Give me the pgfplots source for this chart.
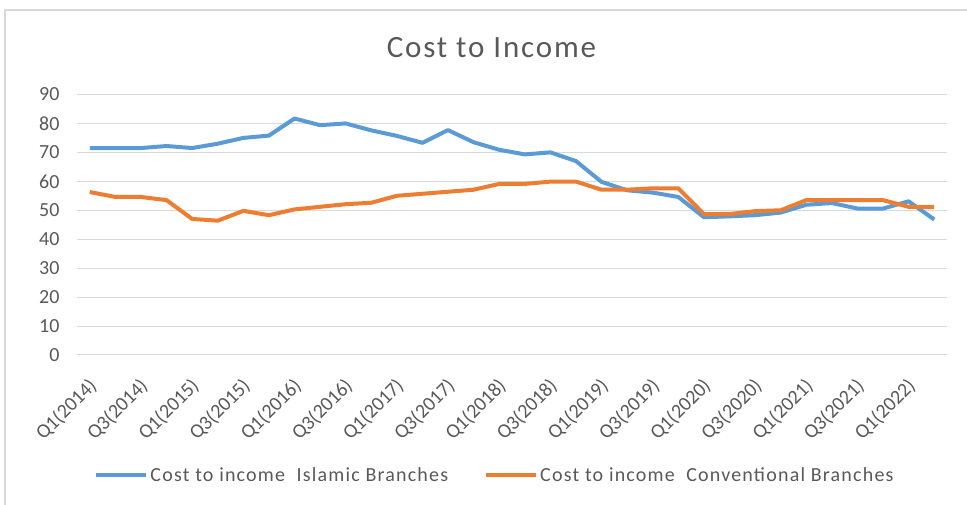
\documentclass[border=0pt]{standalone}
\usepackage{fontspec}
\setmainfont{Carlito}
\newfontfamily\widefont[LetterSpace=6]{Carlito}
\usepackage{pgfplots}
\pgfplotsset{compat=1.18}
\definecolor{xlblue}{HTML}{5B9BD5}
\definecolor{xlorange}{HTML}{ED7D31}
\definecolor{xlgrid}{HTML}{D9D9D9}
\definecolor{xltext}{HTML}{595959}

\begin{document}
\begin{tikzpicture}[x=1pt,y=1pt]
\path[use as bounding box] (0,0) rectangle (967,505);
\draw[xlgrid, line width=1.5pt] (5,0) -- (5,495) -- (967,495);
\node[anchor=base, text=xltext, font=\widefont\fontsize{31}{36}\selectfont] at (491.5,447) {Cost to Income};
\begin{axis}[
    at={(77pt,150pt)}, anchor=south west,
    scale only axis, width=870pt, height=260.5pt,
    xmin=-0.5, xmax=33.5, ymin=0, ymax=90,
    ytick={0,10,...,90},
    xtick={0,2,...,32},
    xticklabels={Q1(2014),Q3(2014),Q1(2015),Q3(2015),Q1(2016),Q3(2016),Q1(2017),Q3(2017),Q1(2018),Q3(2018),Q1(2019),Q3(2019),Q1(2020),Q3(2020),Q1(2021),Q3(2021),Q1(2022)},
    axis line style={draw=none},
    major tick length=0pt,
    ymajorgrids, grid style={xlgrid, line width=1pt},
    /pgf/number format/assume math mode=true,
    ticklabel style={text=xltext, font=\fontsize{20}{24}\selectfont},
    yticklabel style={xshift=-14pt},
    xticklabel style={rotate=45, anchor=north east, xshift=-13.6pt, yshift=-10pt},
    legend style={at={(0.4805,-0.4607)}, anchor=center, draw=none, fill=none,
        font=\widefont\fontsize{20}{24}\selectfont, text=xltext, legend columns=2,
        /tikz/every even column/.append style={column sep=34pt}},
    legend image code/.code={\draw[#1] (0pt,0pt) -- (50pt,0pt);},
]
\addplot[xlblue, line width=4pt, line join=round] coordinates {
(0,71.5) (1,71.5) (2,71.5) (3,72.2) (4,71.5) (5,73.0) (6,75.0) (7,75.8)
(8,81.7) (9,79.4) (10,80.0) (11,77.6) (12,75.7) (13,73.3) (14,77.7) (15,73.5)
(16,70.9) (17,69.3) (18,70.0) (19,67.0) (20,59.8) (21,56.9) (22,56.1) (23,54.6)
(24,47.6) (25,47.9) (26,48.3) (27,49.2) (28,51.9) (29,52.5) (30,50.6) (31,50.6)
(32,53.1) (33,46.8)};
\addlegendentry{Cost to income\ \ Islamic Branches}
\addplot[xlorange, line width=4pt, line join=round] coordinates {
(0,56.3) (1,54.6) (2,54.6) (3,53.5) (4,47.0) (5,46.4) (6,49.8) (7,48.3)
(8,50.3) (9,51.2) (10,52.1) (11,52.6) (12,55.0) (13,55.7) (14,56.4) (15,57.1)
(16,59.1) (17,59.1) (18,59.9) (19,59.9) (20,57.1) (21,57.1) (22,57.6) (23,57.6)
(24,48.7) (25,48.7) (26,49.7) (27,50.0) (28,53.5) (29,53.5) (30,53.5) (31,53.5)
(32,51.2) (33,51.1)};
\addlegendentry{Cost to income\ \ Conventional Branches}
\end{axis}
\end{tikzpicture}
\end{document}
